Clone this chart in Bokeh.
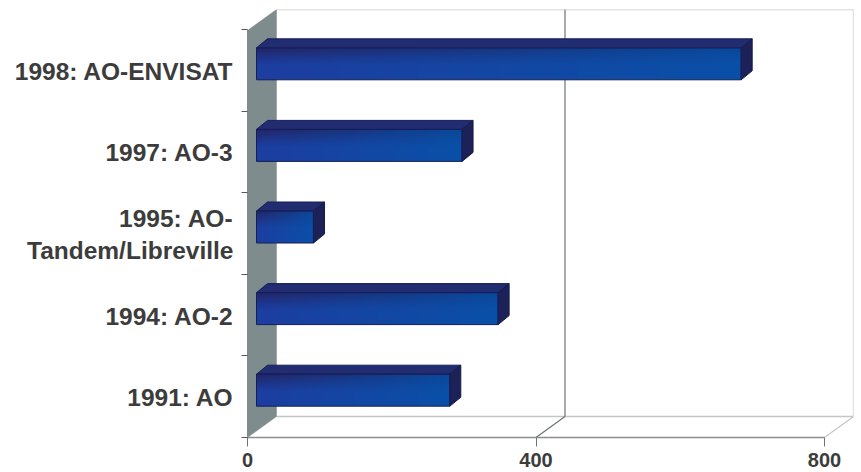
import numpy as np
from bokeh.embed import file_html
from bokeh.models import FixedTicker, LinearAxis, Range1d
from bokeh.plotting import figure
from bokeh.resources import INLINE

# Programme data, bottom band first
programmes = ["1991: AO", "1994: AO-2", "1995: AO-Tandem/Libreville", "1997: AO-3", "1998: AO-ENVISAT"]
proposals = [268, 335, 79, 285, 672]
value_ticks = [0, 400, 800]

# Two-line category label, placed as separate tick labels around the band centre
wrapped = {"1995: AO-Tandem/Libreville": ["1995: AO-", "Tandem/Libreville"]}

WIDTH, HEIGHT = 861, 472
LEFT, RIGHT, TOP, BOTTOM = 247, 853, 9, 437   # frame edges on the page
PX_PER_VALUE = (824 - 247) / 800
PX_PER_BAND = 81.6
WALL_DX, WALL_DY = 29, 21                     # receding depth of the chart box
BAR_DX, BAR_DY = 11, 9                        # receding depth of a bar
BAR_SHIFT_X, BAR_SHIFT_Y = 9, 6.5             # bar front face inside the box
BAR_H = 32

n = len(programmes)
px = lambda d: d / PX_PER_VALUE
py = lambda d: d / PX_PER_BAND

x_end = (RIGHT - LEFT) / PX_PER_VALUE
y_end = (BOTTOM - TOP) / PX_PER_BAND
wall_x, wall_y = px(WALL_DX), py(WALL_DY)
y_top = y_end - wall_y

p = figure(
    width=WIDTH, height=HEIGHT, output_backend="svg", toolbar_location=None,
    x_range=Range1d(0, x_end), y_range=Range1d(0, y_end),
    x_axis_type=None, y_axis_type=None,
    min_border_left=LEFT, min_border_right=WIDTH - RIGHT,
    min_border_top=TOP, min_border_bottom=HEIGHT - BOTTOM,
    background_fill_color="white", border_fill_color="white", outline_line_color=None,
)
p.grid.visible = False

# Chart box: back wall, floor, value gridlines
LIGHT = "#c4c6c6"
DARK = "#6e7272"
p.line([wall_x, x_end], [y_end, y_end], line_color=LIGHT, line_width=1.5)
p.line([wall_x, x_end], [wall_y, wall_y], line_color=LIGHT, line_width=1.5)
for v in value_ticks[1:]:
    colour = DARK if v < value_ticks[-1] else LIGHT
    p.line([v + wall_x, v + wall_x], [wall_y, y_end], line_color=colour, line_width=1.2)
    p.line([v, v + wall_x], [0, wall_y], line_color=colour, line_width=1.2)

# Side wall
p.patch([0, wall_x, wall_x, 0], [0, wall_y, y_end, y_top],
        fill_color="#7f8c8e", line_color="#7f8c8e", line_width=0.5)

# Bars with their top and end faces
def front_gradient(columns=160, rows=32):
    t = np.linspace(0, 1, columns)[None, :, None]
    v = np.linspace(0, 1, rows)[:, None, None]
    top_left, bottom_left = np.array([28, 62, 160.]), np.array([36, 38, 104.])
    top_right, bottom_right = np.array([10, 80, 168.]), np.array([10, 72, 156.])
    shade = np.clip((v - 0.45) / 0.55, 0, 1) ** 1.2
    left = top_left * (1 - shade) + bottom_left * shade
    right = top_right * (1 - shade) + bottom_right * shade
    rgb = left * (1 - t) + right * t
    img = np.zeros((rows, columns), dtype=np.uint32)
    view = img.view(dtype=np.uint8).reshape((rows, columns, 4))
    view[..., :3] = rgb.astype(np.uint8)
    view[..., 3] = 255
    return img

gradient = front_gradient()
for i, val in enumerate(proposals):
    x0 = px(BAR_SHIFT_X)
    x1 = x0 + val
    centre = i + 0.5 + py(BAR_SHIFT_Y)
    y0, y1 = centre - py(BAR_H / 2), centre + py(BAR_H / 2)
    dx, dy = px(BAR_DX), py(BAR_DY)
    p.image_rgba(image=[gradient], x=x0, y=y0, dw=x1 - x0, dh=y1 - y0)
    p.patch([x0, x0 + dx, x1 + dx, x1], [y1, y1 + dy, y1 + dy, y1],
            fill_color="#222c70", line_color="#141f58", line_width=1)
    p.patch([x1, x1 + dx, x1 + dx, x1], [y0, y0 + dy, y1 + dy, y1],
            fill_color="#1c2258", line_color="#141a48", line_width=1)
    p.line([x0, x1, x1, x0, x0], [y0, y0, y1, y1, y0], line_color="#161e58", line_width=1)

# Value axis
x_axis = LinearAxis(
    ticker=FixedTicker(ticks=value_ticks), bounds=(0, 800),
    axis_line_color="#8a8e8e", axis_line_width=1.5,
    major_tick_line_color="#6e7272", major_tick_out=9, major_tick_in=0, minor_tick_line_color=None,
    major_label_text_font="Liberation Sans", major_label_text_font_style="bold",
    major_label_text_font_size="20px", major_label_text_color="#3c3c3c", major_label_standoff=6,
)
p.add_layout(x_axis, "below")

# Category axis: labels sit on band centres, tick marks on band edges
label_pos, label_txt = [], {}
for i, name in enumerate(programmes):
    c = i + 0.5 - py(1)
    if name in wrapped:
        first, second = wrapped[name]
        for pos, txt in ((c + py(16), first), (c - py(16), second)):
            label_pos.append(pos)
            label_txt[pos] = txt
    else:
        label_pos.append(c)
        label_txt[c] = name

y_axis = LinearAxis(
    ticker=FixedTicker(ticks=label_pos, minor_ticks=list(range(n + 1))), bounds=(0, n),
    major_label_overrides=label_txt,
    axis_line_color="#7f8c8e", axis_line_width=1,
    major_tick_line_color=None, major_tick_out=0, major_tick_in=0,
    minor_tick_line_color="#55595a", minor_tick_out=6, minor_tick_in=0, minor_tick_line_width=1.2,
    major_label_text_font="Liberation Sans", major_label_text_font_style="bold",
    major_label_text_font_size="24.5px", major_label_text_color="#3c3c3c", major_label_standoff=8,
)
p.add_layout(y_axis, "left")

open("out.html", "w").write(file_html(p, INLINE))
